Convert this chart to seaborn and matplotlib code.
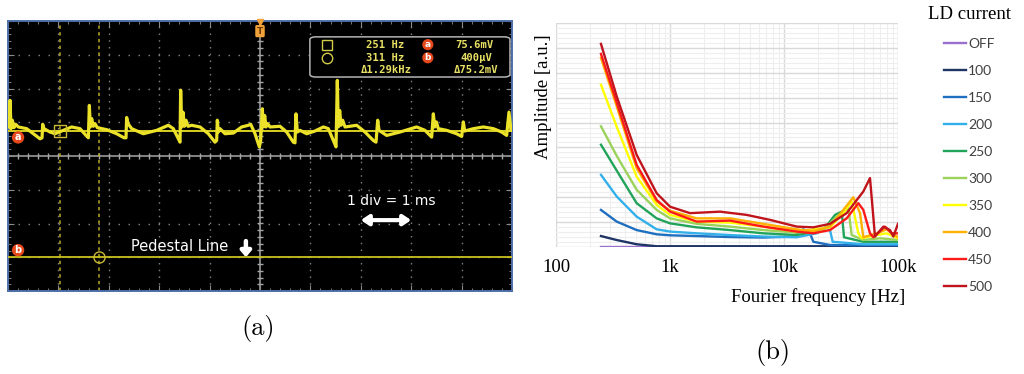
import numpy as np
import pandas as pd
import matplotlib
matplotlib.use("Agg")
import matplotlib.pyplot as plt
from matplotlib.patches import FancyBboxPatch
from matplotlib.ticker import MultipleLocator, LogLocator, NullFormatter
import seaborn as sns

# ---------------- (a) oscilloscope capture ----------------
# time in screen divisions (1 div = 1 ms), amplitude in vertical divisions
trace_t = [0.013, 0.040, 0.060, 0.086, 0.119, 0.152, 0.205, 0.370, 0.503, 0.635,
           0.675, 0.688, 0.714, 0.833, 0.933, 1.098, 1.263, 1.429, 1.548, 1.594,
           1.614, 1.634, 1.660, 1.693, 1.726, 1.772, 1.958, 2.156, 2.302, 2.341,
           2.354, 2.381, 2.454, 2.685, 2.950, 3.181, 3.280, 3.380, 3.413, 3.426,
           3.446, 3.472, 3.499, 3.532, 3.571, 3.644, 3.810, 3.975, 4.107, 4.140,
           4.153, 4.173, 4.206, 4.306, 4.471, 4.636, 4.769, 4.815, 4.901, 4.987,
           5.013, 5.046, 5.066, 5.093, 5.119, 5.152, 5.198, 5.397, 5.529, 5.661,
           5.694, 5.714, 5.741, 5.794, 5.926, 6.091, 6.257, 6.356, 6.455, 6.508,
           6.534, 6.554, 6.581, 6.607, 6.640, 6.687, 6.918, 7.083, 7.249, 7.302,
           7.335, 7.361, 7.513, 7.778, 8.108, 8.274, 8.406, 8.439, 8.466, 8.499,
           8.538, 8.704, 8.902, 9.001, 9.034, 9.061, 9.233, 9.431, 9.630, 9.795,
           9.894, 9.940, 9.980]
trace_v = [0.86, 1.65, 0.81, 1.06, 0.84, 0.94, 0.86, 0.81, 0.66, 0.51,
           0.54, 0.94, 0.81, 0.71, 0.66, 0.76, 0.86, 0.81, 0.61, 0.54,
           1.50, 0.86, 1.11, 0.88, 0.96, 0.84, 0.78, 0.66, 0.54, 0.54,
           1.14, 0.96, 0.81, 0.66, 0.76, 0.91, 0.81, 0.51, 0.41, 1.95,
           0.86, 1.30, 0.88, 1.06, 0.88, 0.91, 0.86, 0.66, 0.41, 0.46,
           1.06, 0.71, 0.81, 0.66, 0.68, 0.86, 0.91, 0.94, 0.66, 0.27,
           0.46, 1.40, 0.86, 1.20, 0.86, 0.96, 0.86, 0.88, 0.71, 0.41,
           0.39, 1.25, 0.71, 0.76, 0.66, 0.74, 0.86, 0.81, 0.46, 0.27,
           2.24, 0.86, 1.35, 0.91, 1.06, 0.86, 0.91, 0.71, 0.46, 0.41,
           1.06, 0.76, 0.61, 0.71, 0.86, 0.76, 0.56, 1.25, 0.86, 1.01,
           0.81, 0.76, 0.66, 0.58, 1.01, 0.74, 0.81, 0.86, 0.81, 0.71,
           0.61, 1.30, 0.76]
ch_a_level = 0.74
ch_b_level = -3.0
cursor_1 = 1.04
cursor_2 = 1.81
readout_freq = ["251 Hz", "311 Hz", "\u03941.29kHz"]
readout_volt = ["75.6mV", "400\u00b5V", "\u039475.2mV"]

# ---------------- (b) Fourier spectra ----------------
currents = ["OFF", "100", "150", "200", "250", "300", "350", "400", "450", "500"]
line_colors = ["#9b6fd0", "#1f3566", "#1f6fc0", "#33b0ea", "#21a45a",
               "#9bd25a", "#ffff00", "#ffb000", "#ff1a1a", "#c0141c"]

freq_off = [248, 100000]
amp_off = [0.01, 0.01]
freq_100 = [248, 341, 510, 764, 100000]
amp_100 = [0.44, 0.28, 0.11, 0.03, 0.03]
freq_150 = [248, 341, 510, 764, 1000, 1714, 3360, 6584, 12080, 14780, 16910, 18090, 25320, 49650, 100000]
amp_150 = [1.49, 1.02, 0.68, 0.51, 0.47, 0.44, 0.40, 0.38, 0.42, 0.71, 0.55, 0.21, 0.08, 0.07, 0.07]
freq_200 = [248, 341, 510, 764, 1000, 1714, 3360, 6584, 12920, 19340, 23670, 25320, 26730, 49650, 100000]
amp_200 = [2.90, 2.03, 1.22, 0.71, 0.62, 0.55, 0.48, 0.42, 0.39, 0.55, 0.78, 0.68, 0.21, 0.11, 0.11]
freq_250 = [248, 341, 510, 764, 1000, 1714, 3360, 6584, 12920, 22130, 28030, 32060, 33610, 49650, 100000]
amp_250 = [4.11, 3.07, 1.76, 1.15, 0.95, 0.79, 0.68, 0.55, 0.48, 0.68, 1.29, 1.42, 0.39, 0.21, 0.21]
freq_300 = [248, 341, 510, 764, 1000, 1714, 3360, 6584, 12920, 22130, 28990, 36670, 39230, 49650, 69530, 100000]
amp_300 = [4.85, 3.66, 2.30, 1.49, 1.15, 0.93, 0.82, 0.68, 0.58, 0.68, 1.22, 1.56, 0.48, 0.28, 0.35, 0.28]
freq_350 = [248, 341, 510, 764, 1000, 1714, 3360, 6584, 12920, 25320, 33160, 39230, 44870, 48020, 65010, 79540, 100000]
amp_350 = [6.52, 4.83, 2.83, 1.69, 1.29, 1.02, 0.98, 0.82, 0.62, 0.79, 1.36, 1.83, 0.55, 0.35, 0.48, 0.55, 0.35]
freq_400 = [248, 341, 510, 764, 1000, 1714, 3360, 6584, 12920, 18090, 25320, 33160, 40560, 46420, 49650, 65010, 79540, 100000]
amp_400 = [7.60, 5.65, 3.17, 1.83, 1.46, 1.15, 1.15, 0.93, 0.71, 0.64, 0.82, 1.49, 2.00, 1.36, 0.39, 0.55, 0.71, 0.39]
freq_450 = [248, 341, 510, 764, 1000, 1714, 3360, 6584, 12920, 18090, 25320, 35450, 44870, 49650, 56800, 60750, 76910, 87980, 100000]
amp_450 = [7.76, 5.80, 3.30, 1.89, 1.42, 1.02, 1.06, 0.82, 0.62, 0.55, 0.68, 1.15, 1.76, 1.49, 0.55, 0.39, 0.82, 0.55, 0.55]
freq_500 = [248, 341, 510, 764, 1000, 1497, 2745, 4705, 7540, 12920, 18090, 25320, 35450, 49650, 56800, 62830, 74360, 85070, 91000, 100000]
amp_500 = [8.16, 6.05, 3.70, 2.16, 1.62, 1.36, 1.42, 1.29, 1.09, 0.82, 0.79, 0.93, 1.36, 2.23, 2.77, 0.42, 0.82, 0.68, 0.42, 0.93]

series_freq = [freq_off, freq_100, freq_150, freq_200, freq_250,
               freq_300, freq_350, freq_400, freq_450, freq_500]
series_amp = [amp_off, amp_100, amp_150, amp_200, amp_250,
              amp_300, amp_350, amp_400, amp_450, amp_500]

spectra = pd.concat(
    [pd.DataFrame({"freq": f, "amp": a, "current": c})
     for f, a, c in zip(series_freq, series_amp, currents)],
    ignore_index=True)

W, H = 1024, 374
fig = plt.figure(figsize=(W / 100, H / 100), dpi=100)
fig.patch.set_facecolor("white")

# ======================= panel (a) =======================
ax_a = fig.add_axes([8 / W, 1 - 291 / H, 504 / W, 270 / H])
ax_a.set_facecolor("black")
ax_a.set_xlim(0, 10)
ax_a.set_ylim(-4, 4)
for s in ax_a.spines.values():
    s.set_color("#4d6fa8")
    s.set_linewidth(1.4)
ax_a.xaxis.set_major_locator(MultipleLocator(1))
ax_a.yaxis.set_major_locator(MultipleLocator(1))
ax_a.xaxis.set_minor_locator(MultipleLocator(0.2))
ax_a.yaxis.set_minor_locator(MultipleLocator(0.2))
ax_a.tick_params(which="both", direction="in", top=True, right=True,
                 labelbottom=False, labelleft=False, color="#8a8a8a")
ax_a.tick_params(which="major", length=4)
ax_a.tick_params(which="minor", length=2.5)

# dotted graticule
for gx in range(1, 10):
    if gx != 5:
        ax_a.axvline(gx, color="#7c7c7c", lw=1, ls=(0, (1.1, 3.76)), zorder=1)
for gy in range(-3, 4):
    if gy != 0:
        ax_a.axhline(gy, color="#7c7c7c", lw=1, ls=(0, (1.1, 6.1)), zorder=1)
# centre crosshair with fine ticks
ax_a.axvline(5, color="#a6a6a6", lw=1.1, zorder=1)
ax_a.axhline(0, color="#a6a6a6", lw=1.1, zorder=1)
fine_x = np.arange(0, 10.001, 0.2)
fine_y = np.arange(-4, 4.001, 0.2)
ax_a.plot(fine_x, np.zeros_like(fine_x), ls="none", marker="|", ms=4,
          mew=1, color="#a6a6a6", zorder=1)
ax_a.plot(np.full_like(fine_y, 5), fine_y, ls="none", marker="_", ms=4,
          mew=1, color="#a6a6a6", zorder=1)

# cursors
for cx in (cursor_1, cursor_2):
    ax_a.axvline(cx, color="#b9a927", lw=1.1, ls=(0, (2.2, 2.2)), zorder=2)

# channel traces
ax_a.axhline(ch_a_level, color="#d8cf22", lw=1.4, zorder=3)
ax_a.axhline(ch_b_level, color="#c9c01c", lw=1.3, zorder=3)
sns.lineplot(x=trace_t, y=trace_v, ax=ax_a, color="#ece22a", lw=2.3,
             sort=False, estimator=None, zorder=4)

# cursor markers
ax_a.plot([cursor_1], [ch_a_level], marker="s", ms=8, mfc="none",
          mec="#c8b834", mew=1, zorder=5)
ax_a.plot([cursor_2], [ch_b_level], marker="o", ms=8, mfc="none",
          mec="#c8b834", mew=1, zorder=5)

# channel badges
def badge(ax, x, y, letter, size=7):
    ax.text(x, y, letter, ha="center", va="center", color="white",
            fontsize=size, fontweight="bold", zorder=7,
            bbox=dict(boxstyle="circle,pad=0.12", fc="#e4481c", ec="none"))

badge(ax_a, 0.2, 0.55, "a")
badge(ax_a, 0.2, -2.79, "b")

# trigger flag
ax_a.text(5, 3.7, "T", ha="center", va="center", fontsize=6.5,
          fontweight="bold", color="#6b3a00", zorder=6,
          bbox=dict(boxstyle="round,pad=0.18", fc="#f2a23a", ec="none"))
ax_a.plot([5], [3.98], marker="v", ms=5, color="#f2a23a", clip_on=False, zorder=6)

# measurement readout
box = FancyBboxPatch((5.99, 2.34), 3.97, 1.19,
                     boxstyle="round,pad=0,rounding_size=0.12",
                     mutation_aspect=0.67, fc="black", ec="#b4b4b4", lw=1.1,
                     zorder=5)
ax_a.add_patch(box)
rows_y = [3.30, 2.91, 2.54]
rfont = dict(family="DejaVu Sans Mono", weight="bold", size=7.6)
rcol = "#e8e064"
ax_a.plot([6.32], [rows_y[0]], marker="s", ms=7.5, mfc="none", mec="#d4cc48",
          mew=1, zorder=6)
ax_a.plot([6.32], [rows_y[1]], marker="o", ms=7.5, mfc="none", mec="#d4cc48",
          mew=1, zorder=6)
freq_x = [7.86, 7.86, 8.01]
volt_x = [9.64, 9.60, 9.74]
for i in range(3):
    ax_a.text(freq_x[i], rows_y[i], readout_freq[i], ha="right", va="center",
              color=rcol, zorder=6, **rfont)
    ax_a.text(volt_x[i], rows_y[i], readout_volt[i], ha="right", va="center",
              color=rcol, zorder=6, **rfont)
badge(ax_a, 8.33, rows_y[0], "a", size=6.5)
badge(ax_a, 8.33, rows_y[1], "b", size=6.5)

# annotations
ax_a.text(7.6, -1.34, "1 div = 1 ms", ha="center", va="center",
          color="white", fontsize=10, family="DejaVu Sans", zorder=6)
ax_a.annotate("", xy=(7.0, -1.9), xytext=(8.0, -1.9),
              arrowprops=dict(arrowstyle="<|-|>,head_length=0.45,head_width=0.3",
                              color="white", lw=3, shrinkA=0, shrinkB=0),
              zorder=6)
ax_a.text(3.4, -2.67, "Pedestal Line", ha="center", va="center",
          color="white", fontsize=10.5, family="DejaVu Sans", zorder=6)
ax_a.annotate("", xy=(4.72, -3.0), xytext=(4.72, -2.52),
              arrowprops=dict(arrowstyle="-|>,head_length=0.35,head_width=0.3",
                              color="white", lw=3.2, shrinkA=0, shrinkB=0),
              zorder=6)
ax_a.set_xlabel("")
ax_a.set_ylabel("")

# ======================= panel (b) =======================
ax_b = fig.add_axes([556 / W, 1 - 247 / H, 342 / W, 224 / H])
ax_b.set_facecolor("white")
sns.lineplot(data=spectra, x="freq", y="amp", hue="current",
             hue_order=currents, palette=dict(zip(currents, line_colors)),
             sort=False, estimator=None, lw=1.7, ax=ax_b, legend=True)
ax_b.set_xscale("log")
ax_b.set_xlim(100, 100000)
ax_b.set_ylim(0, 9)
ax_b.yaxis.set_major_locator(MultipleLocator(1))
ax_b.yaxis.set_minor_locator(MultipleLocator(0.2))
ax_b.xaxis.set_minor_locator(LogLocator(base=10, subs=np.arange(2, 10)))
ax_b.xaxis.set_minor_formatter(NullFormatter())
ax_b.set_axisbelow(True)
ax_b.grid(which="major", color="#d9d9d9", lw=1.0)
ax_b.grid(which="minor", color="#eeeeee", lw=0.8)
for s in ax_b.spines.values():
    s.set_visible(False)
ax_b.set_xticks([100, 1000, 10000, 100000])
ax_b.set_xticklabels(["100", "1k", "10k", "100k"],
                     fontfamily="Liberation Serif", fontsize=13.5)
ax_b.tick_params(which="both", length=0, labelleft=False, pad=9)
ax_b.set_xlabel("")
ax_b.set_ylabel("")

fig.text(905 / W, 1 - 297 / H, "Fourier frequency [Hz]", ha="right",
         va="center", fontfamily="Liberation Serif", fontsize=13.5)
fig.text(543 / W, 1 - 97 / H, "Amplitude [a.u.]", ha="center", va="center",
         rotation=90, fontfamily="Liberation Serif", fontsize=13.5)

handles, labels = ax_b.get_legend_handles_labels()
ax_b.get_legend().remove()
leg = fig.legend(handles, labels, title="LD current", loc="upper center",
                 bbox_to_anchor=(969 / W, 1 - 6 / H), frameon=False,
                 prop={"family": "Lato", "size": 10},
                 title_fontproperties={"family": "Liberation Serif", "size": 13.5},
                 handlelength=1.6, handletextpad=0.15, labelspacing=1.08,
                 borderpad=0, borderaxespad=0)
for t in leg.get_texts():
    t.set_color("#404040")
for h in leg.legend_handles:
    h.set_linewidth(1.7)

# panel captions
fig.text(258 / W, 1 - 328 / H, "(a)", ha="center", va="center",
         fontfamily="cmr10", fontsize=19)
fig.text(773 / W, 1 - 353 / H, "(b)", ha="center", va="center",
         fontfamily="cmr10", fontsize=19)

fig.savefig("out.png", dpi=100, facecolor="white")
